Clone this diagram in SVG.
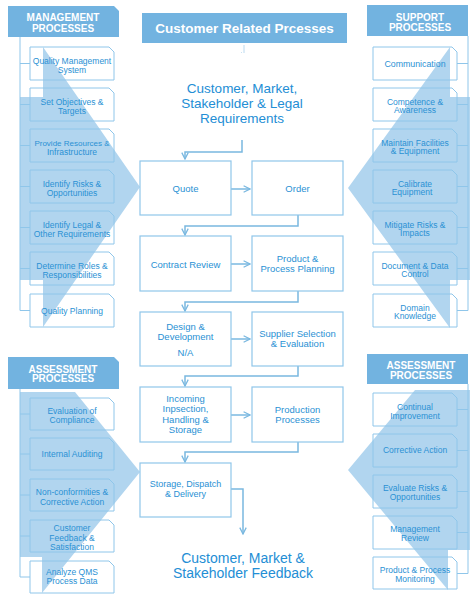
<svg xmlns="http://www.w3.org/2000/svg" width="470" height="594" viewBox="0 0 470 594">
<defs>
<style>
.hdr{fill:#72b3e0}
.ht{font-family:"Liberation Sans",Arial,sans-serif;font-weight:bold;font-size:10px;fill:#ffffff;text-anchor:middle}
.mt{font-family:"Liberation Sans",Arial,sans-serif;font-weight:bold;font-size:13.5px;fill:#ffffff;text-anchor:middle}
.sbox{fill:none;stroke:#8fc6ea;stroke-width:1}
.st{font-family:"Liberation Sans",Arial,sans-serif;font-size:8.5px;fill:#2a91d4;text-anchor:middle}
.cbox{fill:none;stroke:#8fc6ea;stroke-width:1.2}
.ct{font-family:"Liberation Sans",Arial,sans-serif;font-size:9.5px;fill:#2a91d4;text-anchor:middle}
.big{font-family:"Liberation Sans",Arial,sans-serif;font-size:13.5px;fill:#238ed5;text-anchor:middle}
.conn{fill:none;stroke:#7ab8e0;stroke-width:1.5}
.tree{fill:none;stroke:#8fc6ea;stroke-width:1}
.ovl{fill:#5aa5dc;opacity:0.47}
</style>
<marker id="ah" viewBox="0 0 10 10" refX="9" refY="5" markerWidth="8" markerHeight="8" orient="auto" markerUnits="userSpaceOnUse">
<path d="M1,1 L9,5 L1,9" fill="none" stroke="#7ab8e0" stroke-width="1.6"/>
</marker>
</defs>
<rect width="470" height="594" fill="#ffffff"/>

<!-- overlay arrows -->
<g id="overlays">
<polygon class="ovl" points="20,97 43,97 43,47 140,187 43,327 43,280 20,280"/>
<polygon class="ovl" points="470,97 450,97 450,47 348,188 450,328 450,280 470,280"/>
<polygon class="ovl" points="20,392 75,392 140,472 42,593 42,557 20,557"/>
<polygon class="ovl" points="470,390 415,390 348,470 448,590 448,550 470,550"/>
</g>

<!-- connectors -->
<g id="connectors">
<path class="tree" d="M20 37V310.5 M20 63.5H30 M20 104.5H30 M20 145.5H30 M20 186.5H30 M20 227.5H30 M20 268.5H30 M20 310.5H30"/>
<path class="tree" d="M468 36V310.5 M468 63.5H457 M468 104.5H457 M468 145.5H457 M468 186.5H457 M468 227.5H457 M468 268.5H457 M468 310.5H457"/>
<path class="tree" d="M20 389V577 M20 414H30 M20 454H30 M20 495H30 M20 536H30 M20 577H30"/>
<path class="tree" d="M468 384V573.5 M468 409.5H457 M468 450.5H457 M468 491.5H457 M468 532.5H457 M468 573.5H457"/>
<path d="M244 45V53 M241 52.5h0.8" fill="none" stroke="#a9d0ec" stroke-width="0.8"/>
<path class="conn" d="M242 140V152H185V159" marker-end="url(#ah)"/>
<path class="conn" d="M231 189H250" marker-end="url(#ah)"/>
<path class="conn" d="M298 215V226H185V235" marker-end="url(#ah)"/>
<path class="conn" d="M231 264H250" marker-end="url(#ah)"/>
<path class="conn" d="M298 291V302H185V311" marker-end="url(#ah)"/>
<path class="conn" d="M231 339H250" marker-end="url(#ah)"/>
<path class="conn" d="M298 366V376H185V386" marker-end="url(#ah)"/>
<path class="conn" d="M231 415H250" marker-end="url(#ah)"/>
<path class="conn" d="M298 442V452H185V462" marker-end="url(#ah)"/>
<path class="conn" d="M231 489H243V534" marker-end="url(#ah)"/>
</g>

<!-- headers -->
<g id="hdr-main"><rect class="hdr" x="142" y="13" width="205" height="30"/><text class="mt" x="244.5" y="33">Customer Related Prcesses</text></g>
<g id="hdr-management"><path class="hdr" d="M8 6H114L119 11V37H8Z"/><text class="ht" x="63" y="20.5">MANAGEMENT</text><text class="ht" x="63" y="31.5">PROCESSES</text></g>
<g id="hdr-support"><rect class="hdr" x="367" y="5" width="101" height="31"/><text class="ht" x="420" y="20.5">SUPPORT</text><text class="ht" x="420" y="31">PROCESSES</text></g>
<g id="hdr-assess-left"><path class="hdr" d="M8 357H114L119 362V389H8Z"/><text class="ht" x="63" y="372.5">ASSESSMENT</text><text class="ht" x="63" y="382">PROCESSES</text></g>
<g id="hdr-assess-right"><rect class="hdr" x="367" y="354" width="101" height="30"/><text class="ht" x="421" y="368.5">ASSESSMENT</text><text class="ht" x="421" y="378.5">PROCESSES</text></g>

<!-- texts top/bottom -->
<g id="req"><text class="big" x="242" y="93">Customer, Market,</text><text class="big" x="242" y="108">Stakeholder &amp; Legal</text><text class="big" x="242" y="123">Requirements</text></g>
<g id="feedback"><text class="big" x="243" y="563" style="font-size:14px">Customer, Market &amp;</text><text class="big" x="243" y="578" style="font-size:14px">Stakeholder Feedback</text></g>

<!-- center process boxes -->
<g id="quote"><rect class="cbox" x="140" y="161" width="91" height="54"/><text class="ct" x="185.5" y="192">Quote</text></g>
<g id="order"><rect class="cbox" x="252" y="161" width="91" height="54"/><text class="ct" x="297.5" y="192">Order</text></g>
<g id="contract"><rect class="cbox" x="140" y="236" width="91" height="55"/><text class="ct" x="185.5" y="267.5">Contract Review</text></g>
<g id="planning"><rect class="cbox" x="252" y="236" width="91" height="55"/><text class="ct" x="297.5" y="261.5">Product &amp;</text><text class="ct" x="297.5" y="271.5">Process Planning</text></g>
<g id="design"><rect class="cbox" x="140" y="312" width="91" height="54"/><text class="ct" x="185.5" y="329.5">Design &amp;</text><text class="ct" x="185.5" y="339.5">Development</text><text class="ct" x="185.5" y="355.5">N/A</text></g>
<g id="supplier"><rect class="cbox" x="252" y="312" width="91" height="54"/><text class="ct" x="297.5" y="336.5">Supplier Selection</text><text class="ct" x="297.5" y="346.5">&amp; Evaluation</text></g>
<g id="incoming"><rect class="cbox" x="140" y="387" width="91" height="55"/><text class="ct" x="185.5" y="401.5">Incoming</text><text class="ct" x="185.5" y="412">Inpsection,</text><text class="ct" x="185.5" y="422.5">Handling &amp;</text><text class="ct" x="185.5" y="433">Storage</text></g>
<g id="production"><rect class="cbox" x="252" y="387" width="91" height="55"/><text class="ct" x="297.5" y="412.5">Production</text><text class="ct" x="297.5" y="422.5">Processes</text></g>
<g id="storage"><rect class="cbox" x="140" y="463" width="91" height="54"/><text class="ct" x="185.5" y="487" style="font-size:9px">Storage, Dispatch</text><text class="ct" x="185.5" y="497" style="font-size:9px">&amp; Delivery</text></g>

<!-- management boxes -->
<g id="m1"><path class="sbox" d="M30 47H109L114 52V80H30Z"/><text class="st" x="72" y="63.5">Quality Management</text><text class="st" x="72" y="72.5">System</text></g>
<g id="m2"><path class="sbox" d="M30 88H109L114 93V121H30Z"/><text class="st" x="72" y="104.5">Set Objectives &amp;</text><text class="st" x="72" y="113.5">Targets</text></g>
<g id="m3"><path class="sbox" d="M30 129H109L114 134V162H30Z"/><text class="st" x="72" y="145.5" style="font-size:8px">Provide Resources &amp;</text><text class="st" x="72" y="154.5">Infrastructure</text></g>
<g id="m4"><path class="sbox" d="M30 170H109L114 175V203H30Z"/><text class="st" x="72" y="186.5">Identify Risks &amp;</text><text class="st" x="72" y="195.5">Opportunities</text></g>
<g id="m5"><path class="sbox" d="M30 211H109L114 216V244H30Z"/><text class="st" x="72" y="227.5">Identify Legal &amp;</text><text class="st" x="72" y="236.5">Other Requirements</text></g>
<g id="m6"><path class="sbox" d="M30 252H109L114 257V285H30Z"/><text class="st" x="72" y="268.5">Determine Roles &amp;</text><text class="st" x="72" y="277.5">Responsibilities</text></g>
<g id="m7"><path class="sbox" d="M30 294H109L114 299V327H30Z"/><text class="st" x="72" y="313.5">Quality Planning</text></g>

<!-- support boxes -->
<g id="s1"><path class="sbox" d="M373 47H452L457 52V80H373Z"/><text class="st" x="415" y="66.5" style="font-size:8.8px">Communication</text></g>
<g id="s2"><path class="sbox" d="M373 88H452L457 93V121H373Z"/><text class="st" x="415" y="104.5">Competence &amp;</text><text class="st" x="415" y="113">Awareness</text></g>
<g id="s3"><path class="sbox" d="M373 129H452L457 134V162H373Z"/><text class="st" x="415" y="145.5">Maintain Facilities</text><text class="st" x="415" y="154">&amp; Equipment</text></g>
<g id="s4"><path class="sbox" d="M373 170H452L457 175V203H373Z"/><text class="st" x="415" y="186.5">Calibrate</text><text class="st" x="412" y="195">Equipment</text></g>
<g id="s5"><path class="sbox" d="M373 211H452L457 216V244H373Z"/><text class="st" x="415" y="227.5">Mitigate Risks &amp;</text><text class="st" x="415" y="236">Impacts</text></g>
<g id="s6"><path class="sbox" d="M373 252H452L457 257V285H373Z"/><text class="st" x="415" y="268.5">Document &amp; Data</text><text class="st" x="415" y="277">Control</text></g>
<g id="s7"><path class="sbox" d="M373 294H452L457 299V327H373Z"/><text class="st" x="415" y="310.5">Domain</text><text class="st" x="415" y="319">Knowledge</text></g>

<!-- left assessment boxes -->
<g id="la1"><path class="sbox" d="M30 398H109L114 403V430H30Z"/><text class="st" x="72" y="414">Evaluation of</text><text class="st" x="72" y="423">Compliance</text></g>
<g id="la2"><path class="sbox" d="M30 438H109L114 443V470H30Z"/><text class="st" x="72" y="457">Internal Auditing</text></g>
<g id="la3"><path class="sbox" d="M30 479H109L114 484V511H30Z"/><text class="st" x="72" y="495">Non-conformities &amp;</text><text class="st" x="72" y="505">Corrective Action</text></g>
<g id="la4"><path class="sbox" d="M30 520H109L114 525V552H30Z"/><text class="st" x="72" y="531">Customer</text><text class="st" x="72" y="540.5">Feedback &amp;</text><text class="st" x="72" y="550">Satisfaction</text></g>
<g id="la5"><path class="sbox" d="M30 561H109L114 566V593H30Z"/><text class="st" x="72" y="575">Analyze QMS</text><text class="st" x="72" y="584">Process Data</text></g>

<!-- right assessment boxes -->
<g id="ra1"><path class="sbox" d="M373 393H452L457 398V426H373Z"/><text class="st" x="415" y="409.5">Continual</text><text class="st" x="415" y="418.5">Improvement</text></g>
<g id="ra2"><path class="sbox" d="M373 434H452L457 439V467H373Z"/><text class="st" x="415" y="453">Corrective Action</text></g>
<g id="ra3"><path class="sbox" d="M373 475H452L457 480V508H373Z"/><text class="st" x="415" y="490.5">Evaluate Risks &amp;</text><text class="st" x="415" y="499.5">Opportunities</text></g>
<g id="ra4"><path class="sbox" d="M373 516H452L457 521V549H373Z"/><text class="st" x="415" y="531.5">Management</text><text class="st" x="415" y="540.5">Review</text></g>
<g id="ra5"><path class="sbox" d="M373 557H452L457 562V589H373Z"/><text class="st" x="415" y="572.5">Product &amp; Process</text><text class="st" x="415" y="581.5">Monitoring</text></g>
</svg>
